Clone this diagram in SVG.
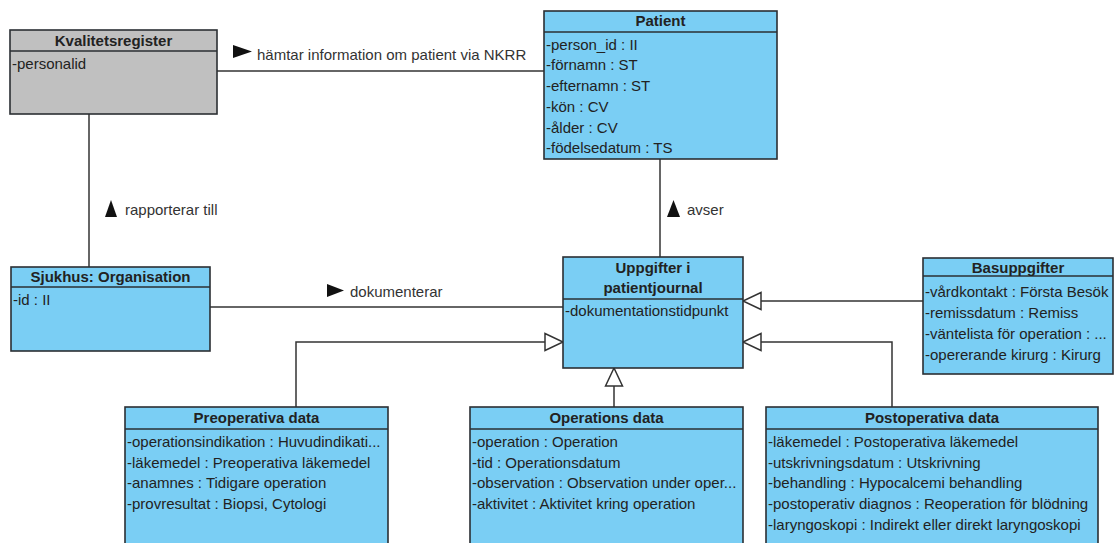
<svg xmlns="http://www.w3.org/2000/svg" width="1114" height="543" viewBox="0 0 1114 543">
<style>
text{font-family:"Liberation Sans",Arial,sans-serif;font-size:15px;fill:#222}
.h{font-weight:bold;text-anchor:middle}
.box{fill:#7acef4;stroke:#2b2f33;stroke-width:1.6}
.gray{fill:#c0c0c0;stroke:#2b2f33;stroke-width:1.6}
.sep{stroke:#2b2f33;stroke-width:1.6}
.ln{fill:none;stroke:#333;stroke-width:1.5}
.gen{fill:#fff;stroke:#333;stroke-width:1.5}
.dir{fill:#111}
.lbl{fill:#333}
</style>
<rect width="1114" height="543" fill="#fff"/>
<g id="connectors">
<line class="ln" x1="217" y1="71" x2="544" y2="71"/>
<line class="ln" x1="89" y1="114" x2="89" y2="267"/>
<line class="ln" x1="210" y1="307" x2="563" y2="307"/>
<line class="ln" x1="660" y1="159" x2="660" y2="257"/>
<polyline class="ln" points="296,407 296,342 545,342"/>
<polygon class="gen" points="545,333.5 563,342 545,350.5"/>
<line class="ln" x1="923" y1="301" x2="761" y2="301"/>
<polygon class="gen" points="761,292.5 743,301 761,309.5"/>
<polyline class="ln" points="892,407 892,342 761,342"/>
<polygon class="gen" points="761,333.5 743,342 761,350.5"/>
<line class="ln" x1="614" y1="407" x2="614" y2="386"/>
<polygon class="gen" points="605.5,386 614,368 622.5,386"/>
<polygon class="dir" points="233,45 252,51.5 233,58"/>
<text class="lbl" x="257" y="60">hämtar information om patient via NKRR</text>
<polygon class="dir" points="105,217 111,200 117,217"/>
<text class="lbl" x="125" y="215">rapporterar till</text>
<polygon class="dir" points="667,217 673.5,200 680,217"/>
<text class="lbl" x="687" y="215">avser</text>
<polygon class="dir" points="327,284 344,290.5 327,297"/>
<text class="lbl" x="350" y="297">dokumenterar</text>
</g>
<g id="kvalitetsregister">
<rect class="gray" x="10" y="30" width="207" height="84"/>
<line class="sep" x1="10" y1="51" x2="217" y2="51"/>
<text class="h" x="113.5" y="46">Kvalitetsregister</text>
<text x="12" y="69">-personalid</text>
</g>
<g id="patient">
<rect class="box" x="544" y="11" width="233" height="148"/>
<line class="sep" x1="544" y1="32" x2="777" y2="32"/>
<text class="h" x="660.5" y="26">Patient</text>
<text x="546" y="49.5">-person_id : II</text>
<text x="546" y="70.3">-förnamn : ST</text>
<text x="546" y="91">-efternamn : ST</text>
<text x="546" y="111.8">-kön : CV</text>
<text x="546" y="132.6">-ålder : CV</text>
<text x="546" y="153.4">-födelsedatum : TS</text>
</g>
<g id="sjukhus">
<rect class="box" x="11" y="267" width="199" height="84"/>
<line class="sep" x1="11" y1="287" x2="210" y2="287"/>
<text class="h" x="110.5" y="282">Sjukhus: Organisation</text>
<text x="13" y="305">-id : II</text>
</g>
<g id="uppgifter">
<rect class="box" x="563" y="257" width="180" height="111"/>
<line class="sep" x1="563" y1="299" x2="743" y2="299"/>
<text class="h" x="653" y="273">Uppgifter i</text>
<text class="h" x="653" y="293">patientjournal</text>
<text x="565" y="316">-dokumentationstidpunkt</text>
</g>
<g id="basuppgifter">
<rect class="box" x="923" y="258" width="190" height="116"/>
<line class="sep" x1="923" y1="276" x2="1113" y2="276"/>
<text class="h" x="1018" y="273">Basuppgifter</text>
<text x="925" y="297">-vårdkontakt : Första Besök</text>
<text x="925" y="318">-remissdatum : Remiss</text>
<text x="925" y="339">-väntelista för operation : ...</text>
<text x="925" y="359.5">-opererande kirurg : Kirurg</text>
</g>
<g id="preoperativa">
<rect class="box" x="125" y="407" width="263" height="140"/>
<line class="sep" x1="125" y1="429" x2="388" y2="429"/>
<text class="h" x="256.5" y="423">Preoperativa data</text>
<text x="127" y="447">-operationsindikation : Huvudindikati...</text>
<text x="127" y="467.7">-läkemedel : Preoperativa läkemedel</text>
<text x="127" y="488.4">-anamnes : Tidigare operation</text>
<text x="127" y="509">-provresultat : Biopsi, Cytologi</text>
</g>
<g id="operations">
<rect class="box" x="470" y="407" width="273" height="140"/>
<line class="sep" x1="470" y1="429" x2="743" y2="429"/>
<text class="h" x="606.5" y="423">Operations data</text>
<text x="472" y="447">-operation : Operation</text>
<text x="472" y="467.7">-tid : Operationsdatum</text>
<text x="472" y="488.4">-observation : Observation under oper...</text>
<text x="472" y="509">-aktivitet : Aktivitet kring operation</text>
</g>
<g id="postoperativa">
<rect class="box" x="766" y="407" width="332" height="140"/>
<line class="sep" x1="766" y1="429" x2="1098" y2="429"/>
<text class="h" x="932" y="423">Postoperativa data</text>
<text x="768" y="447">-läkemedel : Postoperativa läkemedel</text>
<text x="768" y="467.7">-utskrivningsdatum : Utskrivning</text>
<text x="768" y="488.4">-behandling : Hypocalcemi behandling</text>
<text x="768" y="509">-postoperativ diagnos : Reoperation för blödning</text>
<text x="768" y="529.8">-laryngoskopi : Indirekt eller direkt laryngoskopi</text>
</g>
</svg>
